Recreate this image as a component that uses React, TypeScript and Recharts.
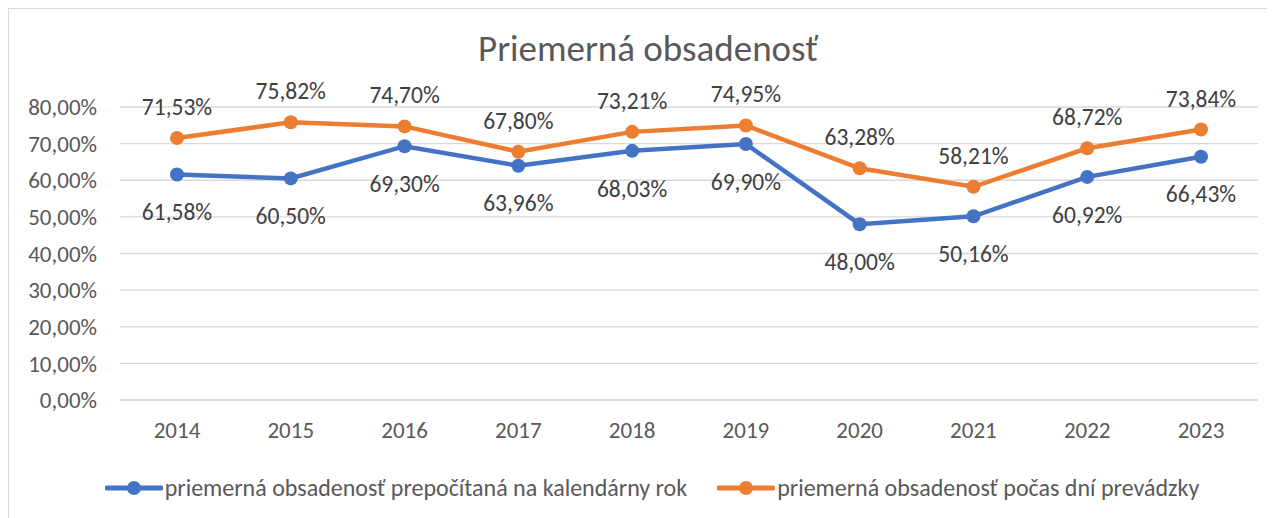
import { LineChart, Line, XAxis, YAxis, CartesianGrid, Legend, LabelList } from 'recharts';

const years = ['2014', '2015', '2016', '2017', '2018', '2019', '2020', '2021', '2022', '2023'];
const calendarYear = [61.58, 60.5, 69.3, 63.96, 68.03, 69.9, 48.0, 50.16, 60.92, 66.43];
const operatingDays = [71.53, 75.82, 74.7, 67.8, 73.21, 74.95, 63.28, 58.21, 68.72, 73.84];
const yTicks = [0, 10, 20, 30, 40, 50, 60, 70, 80];

const seriesNames = {
  calendar: 'priemerná obsadenosť prepočítaná na kalendárny rok',
  operating: 'priemerná obsadenosť počas dní prevádzky',
};

const BLUE = '#4472C4';
const ORANGE = '#ED7D31';
const TEXT = '#595959';
const FONT = "Carlito, Calibri, Lato, sans-serif";

const data = years.map((year, i) => ({
  year,
  calendar: calendarYear[i],
  operating: operatingDays[i],
}));

const pct = (v: number) => `${v.toFixed(2).replace('.', ',')}%`;

const LegendContent = () => {
  const items = [
    { name: seriesNames.calendar, color: BLUE },
    { name: seriesNames.operating, color: ORANGE },
  ];
  return (
    <div style={{ display: 'flex', justifyContent: 'center', gap: 30, paddingLeft: 28, fontFamily: FONT, fontSize: 24, color: TEXT }}>
      {items.map((it) => (
        <div key={it.name} style={{ display: 'flex', alignItems: 'center' }}>
          <svg width={58} height={16} style={{ marginRight: 2 }}>
            <line x1={2} y1={8} x2={56} y2={8} stroke={it.color} strokeWidth={5} strokeLinecap="round" />
            <circle cx={29} cy={8} r={7} fill={it.color} />
          </svg>
          <span>{it.name}</span>
        </div>
      ))}
    </div>
  );
};

export default function App() {
  return (
    <div style={{ position: 'relative', width: 1259, height: 509, borderTop: '1px solid #d9d9d9', borderLeft: '1px solid #d9d9d9' }}>
      <div
        style={{
          position: 'absolute',
          top: 17,
          left: 0,
          width: '100%',
          paddingLeft: 19,
          boxSizing: 'border-box',
          textAlign: 'center',
          fontFamily: FONT,
          fontSize: 37,
          color: TEXT,
        }}
      >
        Priemerná obsadenosť
      </div>
      <LineChart width={1258} height={509} data={data} margin={{ top: 98, right: 9, left: 0, bottom: 88 }}>
        <CartesianGrid vertical={false} stroke="#d9d9d9" strokeWidth={1.3} />
        <XAxis
          dataKey="year"
          padding={{ left: 57, right: 57 }}
          axisLine={{ stroke: '#d9d9d9', strokeWidth: 1.3 }}
          tickLine={false}
          tickMargin={16}
          height={30}
          tick={{ fill: TEXT, fontSize: 23, fontFamily: FONT }}
        />
        <YAxis
          domain={[0, 80]}
          ticks={yTicks}
          width={111}
          axisLine={false}
          tickLine={false}
          tickMargin={17}
          tickFormatter={pct}
          tick={{ fill: TEXT, fontSize: 23, fontFamily: FONT }}
        />
        <Legend verticalAlign="middle" align="center" wrapperStyle={{ top: 464, left: 0, width: 1258 }} content={<LegendContent />} />
        <Line
          type="linear"
          dataKey="calendar"
          name={seriesNames.calendar}
          stroke={BLUE}
          strokeWidth={4.5}
          dot={{ r: 7, fill: BLUE, stroke: BLUE, strokeWidth: 0 }}
          isAnimationActive={false}
        >
          <LabelList dataKey="calendar" position="bottom" offset={29} formatter={(v: any) => pct(Number(v))} fill="#404040" fontSize={23.5} fontFamily={FONT} />
        </Line>
        <Line
          type="linear"
          dataKey="operating"
          name={seriesNames.operating}
          stroke={ORANGE}
          strokeWidth={4.5}
          dot={{ r: 7, fill: ORANGE, stroke: ORANGE, strokeWidth: 0 }}
          isAnimationActive={false}
        >
          <LabelList dataKey="operating" position="top" offset={23} formatter={(v: any) => pct(Number(v))} fill="#404040" fontSize={23.5} fontFamily={FONT} />
        </Line>
      </LineChart>
    </div>
  );
}
